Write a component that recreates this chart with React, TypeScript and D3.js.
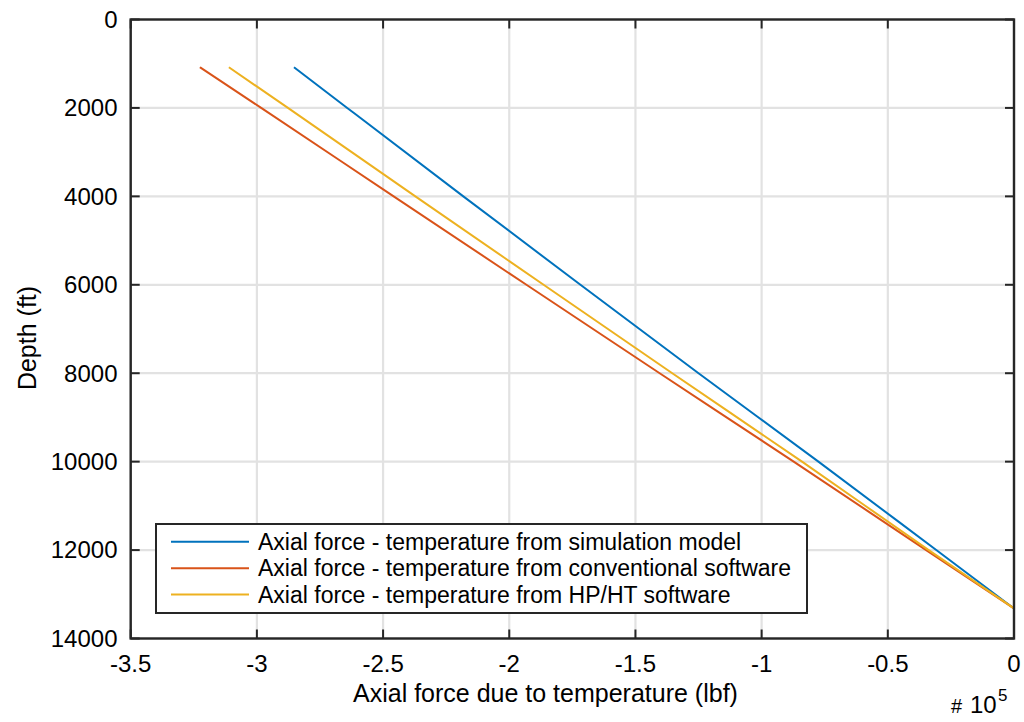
import React from "react";
import * as d3 from "d3";

// Depth (ft)
const depths = [1080, 2000, 4000, 6000, 8000, 10000, 12000, 13320];
// Axial force (lbf)
const simulationForce = [-285300, -264200, -218200, -171800, -125000, -77500, -30800, 0];
const conventionalForce = [-322600, -298300, -245800, -193200, -140400, -87300, -34800, 0];
const hphtForce = [-311100, -287700, -237200, -186400, -135400, -84000, -33800, 0];

const seriesNames = [
  "Axial force - temperature from simulation model",
  "Axial force - temperature from conventional software",
  "Axial force - temperature from HP/HT software",
];
const seriesColors = ["#0072BD", "#D95319", "#EDB120"];
const xTicks = [-350000, -300000, -250000, -200000, -150000, -100000, -50000, 0];
const yTicks = [0, 2000, 4000, 6000, 8000, 10000, 12000, 14000];

const FONT = "'Liberation Sans', Arial, Helvetica, sans-serif";

export default function App() {
  const left = 130.7, right = 1014, top = 19.5, bottom = 638.5;
  const x = d3.scaleLinear().domain([-350000, 0]).range([left, right]);
  const y = d3.scaleLinear().domain([0, 14000]).range([top, bottom]);
  const all = [simulationForce, conventionalForce, hphtForce];
  const line = d3
    .line<[number, number]>()
    .x((d) => x(d[0]))
    .y((d) => y(d[1]))
    .curve(d3.curveMonotoneY);
  const fmtX = (v: number) => String(+(v / 1e5).toFixed(1));
  const axisColor = "#262626";
  const tickLen = 9;
  const legend = { x0: 156, y0: 524, x1: 807, y1: 613 };
  const rows = [541.7, 568.3, 594.5];

  return (
    <svg
      width={1024}
      height={722}
      style={{ position: "absolute", left: 0, top: 0, background: "#fff" }}
      fontFamily={FONT}
    >
      <rect x={0} y={0} width={1024} height={722} fill="#fff" />
      {/* grid */}
      {xTicks.map((t) => (
        <line key={"gx" + t} x1={x(t)} x2={x(t)} y1={top} y2={bottom} stroke="#e2e2e2" strokeWidth={2.2} />
      ))}
      {yTicks.map((t) => (
        <line key={"gy" + t} x1={left} x2={right} y1={y(t)} y2={y(t)} stroke="#e2e2e2" strokeWidth={2.2} />
      ))}
      {/* data lines */}
      {all.map((s, i) => (
        <path
          key={"s" + i}
          d={line(s.map((v, j) => [v, depths[j]] as [number, number])) || ""}
          fill="none"
          stroke={seriesColors[i]}
          strokeWidth={2}
        />
      ))}
      {/* ticks */}
      {xTicks.map((t) => (
        <g key={"tx" + t}>
          <line x1={x(t)} x2={x(t)} y1={bottom} y2={bottom - tickLen} stroke={axisColor} strokeWidth={2} />
          <line x1={x(t)} x2={x(t)} y1={top} y2={top + tickLen} stroke={axisColor} strokeWidth={2} />
          <text x={x(t)} y={672} textAnchor="middle" fontSize={24} fill="#000">
            {fmtX(t)}
          </text>
        </g>
      ))}
      {yTicks.map((t) => (
        <g key={"ty" + t}>
          <line x1={left} x2={left + tickLen} y1={y(t)} y2={y(t)} stroke={axisColor} strokeWidth={2} />
          <line x1={right} x2={right - tickLen} y1={y(t)} y2={y(t)} stroke={axisColor} strokeWidth={2} />
          <text x={117.5} y={y(t)} dy="0.35em" textAnchor="end" fontSize={24} fill="#000">
            {t}
          </text>
        </g>
      ))}
      {/* box */}
      <rect x={left} y={top} width={right - left} height={bottom - top} fill="none" stroke={axisColor} strokeWidth={2.4} />
      {/* axis labels */}
      <text x={353} y={702} fontSize={25} fill="#000">
        Axial force due to temperature (lbf)
      </text>
      <text transform="translate(36,338) rotate(-90)" textAnchor="middle" fontSize={25} fill="#000">
        Depth (ft)
      </text>
      {/* exponent */}
      <text x={951} y={713} fontSize={20} fill="#000">#</text>
      <text x={970} y={713} fontSize={24} fill="#000">10</text>
      <text x={998} y={701} fontSize={17} fill="#000">5</text>
      {/* legend */}
      <rect
        x={legend.x0}
        y={legend.y0}
        width={legend.x1 - legend.x0}
        height={legend.y1 - legend.y0}
        fill="#fff"
        stroke={axisColor}
        strokeWidth={2}
      />
      {seriesNames.map((n, i) => (
        <g key={"lg" + i}>
          <line x1={171} x2={249} y1={rows[i]} y2={rows[i]} stroke={seriesColors[i]} strokeWidth={2} />
          <text x={258} y={rows[i]} dy="0.35em" fontSize={23} fill="#000">
            {n}
          </text>
        </g>
      ))}
    </svg>
  );
}
